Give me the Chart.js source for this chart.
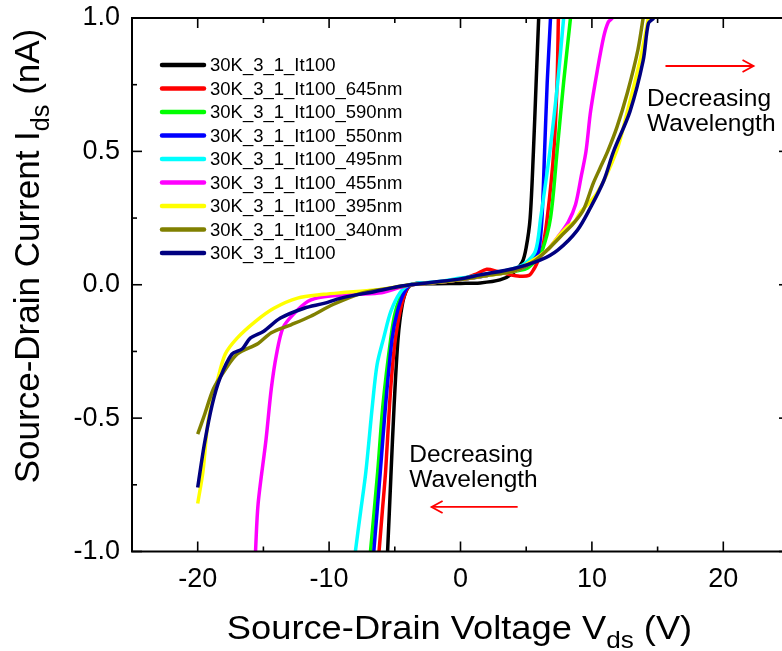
<!DOCTYPE html>
<html><head><meta charset="utf-8">
<script src="https://cdn.jsdelivr.net/npm/chart.js@4"></script>
<style>
html,body{margin:0;padding:0;overflow:hidden;background:#fff;width:782px;height:651px}
#wrap{position:absolute;left:0;top:0;width:800px;height:651px}
</style></head>
<body><div id="wrap"><canvas id="c" width="800" height="651"></canvas></div>
<script>
// ---- tick values ----
const xTicks = [-20, -10, 0, 10, 20];
const xMinorTicks = [-15, -5, 5, 15];
const yTicks = [-1.0, -0.5, 0.0, 0.5, 1.0];
const yMinorTicks = [-0.75, -0.25, 0.25, 0.75];

// ---- series ----
const seriesLabels = ['30K_3_1_It100','30K_3_1_It100_645nm','30K_3_1_It100_590nm','30K_3_1_It100_550nm',
  '30K_3_1_It100_495nm','30K_3_1_It100_455nm','30K_3_1_It100_395nm','30K_3_1_It100_340nm','30K_3_1_It100'];
const seriesColors = ['#000000','#ff0000','#00ff00','#0000ff','#00ffff','#ff00ff','#ffff00','#808000','#000080'];

const sDark = [[-5.6,-1.03],[-5.55,-1.0],[-5.3,-0.72],[-5.05,-0.45],[-4.75,-0.2],[-4.45,-0.08],[-4.1,-0.02],[-3.7,0],[-2,0.004],[0,0.005],[1.5,0.007],[3,0.018],[4,0.044],[4.7,0.085],[5.0,0.14],[5.3,0.25],[5.55,0.5],[5.75,0.75],[5.95,1.0],[5.98,1.03]];
const s645 = [[-6.25,-1.03],[-6.2,-1.0],[-5.95,-0.85],[-5.7,-0.7],[-5.4,-0.45],[-5.2,-0.32],[-4.95,-0.2],[-4.6,-0.1],[-4.2,-0.03],[-3.8,0],[-2,0.008],[0,0.02],[1.2,0.04],[2.0,0.058],[2.8,0.05],[3.6,0.04],[4.5,0.032],[5.2,0.035],[5.6,0.06],[5.9,0.09],[6.2,0.126],[6.6,0.25],[7.1,0.5],[7.35,0.76],[7.45,1.0],[7.47,1.03]];
const s590 = [[-6.9,-1.03],[-6.85,-1.0],[-6.3,-0.7],[-5.9,-0.45],[-5.3,-0.2],[-4.95,-0.1],[-4.4,-0.03],[-3.8,0],[-2,0.008],[0,0.02],[2,0.035],[4,0.05],[5,0.06],[5.7,0.09],[6.2,0.126],[6.85,0.25],[7.35,0.5],[7.85,0.76],[8.37,1.0],[8.42,1.03]];
const s550 = [[-6.65,-1.03],[-6.6,-1.0],[-6.1,-0.7],[-5.7,-0.45],[-5.2,-0.2],[-4.8,-0.1],[-4.3,-0.03],[-3.8,0],[-2,0.008],[0,0.02],[2,0.035],[4,0.055],[5.0,0.07],[5.6,0.1],[5.95,0.126],[6.2,0.25],[6.4,0.5],[6.6,0.76],[6.85,1.0],[6.87,1.03]];
const s495 = [[-8.05,-1.03],[-8.0,-1.0],[-7.6,-0.85],[-7.2,-0.7],[-6.7,-0.45],[-6.35,-0.3],[-5.85,-0.2],[-5.3,-0.1],[-4.6,-0.03],[-3.9,0],[-2,0.01],[0,0.025],[2,0.04],[4,0.06],[4.9,0.08],[5.7,0.126],[6.1,0.25],[6.8,0.5],[7.4,0.76],[7.85,1.0],[7.9,1.03]];
const s455 = [[-15.62,-1.03],[-15.6,-1.0],[-15.4,-0.82],[-14.8,-0.58],[-14.4,-0.39],[-14.0,-0.26],[-13.5,-0.16],[-12.7,-0.11],[-11.6,-0.062],[-10.4,-0.045],[-8,-0.036],[-6,-0.03],[-4.6,-0.01],[-3.8,0],[-2,0.008],[0,0.02],[2,0.035],[4,0.05],[5.3,0.08],[6.6,0.13],[7.5,0.185],[8.2,0.235],[8.75,0.3],[9.2,0.41],[9.55,0.5],[9.9,0.65],[10.4,0.8],[10.9,0.93],[11.25,0.985],[11.55,1.0],[11.7,1.02]];
const s395 = [[-20,-0.82],[-19.6,-0.70],[-19.2,-0.51],[-18.5,-0.36],[-17.9,-0.26],[-17.0,-0.20],[-15.6,-0.137],[-14.2,-0.088],[-12.4,-0.05],[-10.4,-0.036],[-9.1,-0.03],[-6.5,-0.02],[-4.5,-0.005],[-3.8,0],[-2,0.008],[0,0.02],[2,0.035],[4,0.05],[5.3,0.085],[6.6,0.13],[7.6,0.19],[8.2,0.22],[8.7,0.237],[9.1,0.27],[10.4,0.344],[11.9,0.505],[12.7,0.65],[13.7,0.85],[14.3,1.0],[14.4,1.03]];
const s340 = [[-20,-0.56],[-19.5,-0.49],[-18.8,-0.39],[-18.0,-0.325],[-17.0,-0.26],[-15.4,-0.22],[-14.4,-0.18],[-12.9,-0.15],[-11.4,-0.118],[-9.7,-0.074],[-7.4,-0.03],[-5,-0.01],[-3.8,0],[-2,0.008],[0,0.02],[2,0.035],[4,0.05],[5.5,0.085],[6.6,0.13],[7.6,0.18],[8.6,0.23],[9.35,0.28],[10.1,0.38],[10.6,0.435],[11.2,0.5],[11.9,0.59],[12.7,0.72],[13.5,0.88],[13.9,1.0],[14.0,1.03]];
const sNavy = [[-20,-0.76],[-19.5,-0.60],[-18.9,-0.45],[-18.3,-0.35],[-17.4,-0.26],[-16.6,-0.24],[-16.0,-0.20],[-15.0,-0.175],[-13.7,-0.125],[-11.9,-0.088],[-10.4,-0.07],[-9.1,-0.05],[-6.5,-0.025],[-4.5,-0.005],[-3.8,0],[-2,0.01],[0,0.022],[1.5,0.037],[4.0,0.06],[6.1,0.093],[7.4,0.13],[8.9,0.205],[9.9,0.29],[10.9,0.39],[11.65,0.5],[12.9,0.65],[13.9,0.84],[14.3,0.98],[14.7,1.0],[14.8,1.03]];
const series = [sDark, s645, s590, s550, s495, s455, s395, s340, sNavy];

// ---- annotations (data coordinates) ----
const noteTop = {x: 14.2, y: [0.67, 0.575], lines: ['Decreasing', 'Wavelength'], arrow: [15.6, 22.3, 0.82]};
const noteBottom = {x: -3.9, y: [-0.665, -0.758], lines: ['Decreasing', 'Wavelength'], arrow: [4.35, -2.2, -0.833]};

const FONT = '"Liberation Sans", Arial, Helvetica, sans-serif';

function drawSubText(ctx, parts, size, cx, cy, sx) {
  ctx.save();
  ctx.translate(cx, cy);
  ctx.scale(sx || 1, 1);
  let w = 0;
  parts.forEach(p => { ctx.font = (p.sub ? size * 0.72 : size) + 'px ' + FONT; w += ctx.measureText(p.t).width; });
  let x = -w / 2;
  ctx.textAlign = 'left'; ctx.textBaseline = 'alphabetic';
  parts.forEach(p => {
    ctx.font = (p.sub ? size * 0.72 : size) + 'px ' + FONT;
    ctx.fillText(p.t, x, p.sub ? size * 0.28 : 0);
    x += ctx.measureText(p.t).width;
  });
  ctx.restore();
}

function arrow(ctx, x1, x2, y) {
  ctx.beginPath(); ctx.moveTo(x1, y); ctx.lineTo(x2, y); ctx.stroke();
  const d = x2 > x1 ? -1 : 1;
  ctx.beginPath(); ctx.moveTo(x2 + d * 11, y - 6); ctx.lineTo(x2, y); ctx.lineTo(x2 + d * 11, y + 6); ctx.stroke();
}

const framePlugin = {
  id: 'frame',
  afterDraw(chart) {
    const {ctx, chartArea: a, scales: {x, y}} = chart;
    ctx.save();
    ctx.strokeStyle = '#000'; ctx.lineWidth = 2;
    ctx.strokeRect(a.left, a.top, a.right - a.left, a.bottom - a.top);
    ctx.lineWidth = 1.6;
    const tick = (vals, len) => {
      vals.forEach(v => {
        const px = x.getPixelForValue(v);
        ctx.beginPath(); ctx.moveTo(px, a.bottom); ctx.lineTo(px, a.bottom - len); ctx.stroke();
        ctx.beginPath(); ctx.moveTo(px, a.top); ctx.lineTo(px, a.top + len); ctx.stroke();
      });
    };
    const ytick = (vals, len) => {
      vals.forEach(v => {
        const py = y.getPixelForValue(v);
        ctx.beginPath(); ctx.moveTo(a.left, py); ctx.lineTo(a.left + len, py); ctx.stroke();
        ctx.beginPath(); ctx.moveTo(a.right, py); ctx.lineTo(a.right - len, py); ctx.stroke();
      });
    };
    tick(xTicks, 10); tick(xMinorTicks, 5);
    ytick(yTicks, 10); ytick(yMinorTicks, 5);

    // legend
    ctx.textAlign = 'left'; ctx.textBaseline = 'middle';
    ctx.font = '18.5px ' + FONT;
    seriesLabels.forEach((lab, i) => {
      const yy = a.top + 47 + i * 23.5;
      ctx.strokeStyle = seriesColors[i]; ctx.lineWidth = 4.5; ctx.lineCap = 'round';
      ctx.beginPath(); ctx.moveTo(a.left + 30, yy); ctx.lineTo(a.left + 72, yy); ctx.stroke();
      ctx.fillStyle = '#000';
      ctx.fillText(lab, a.left + 78, yy + 1);
    });
    ctx.lineCap = 'butt';

    // annotations
    [noteTop, noteBottom].forEach(n => {
      ctx.fillStyle = '#000'; ctx.font = '24.5px ' + FONT; ctx.textAlign = 'left'; ctx.textBaseline = 'alphabetic';
      n.lines.forEach((t, i) => ctx.fillText(t, x.getPixelForValue(n.x), y.getPixelForValue(n.y[i])));
      ctx.strokeStyle = '#ff0000'; ctx.lineWidth = 1.8;
      arrow(ctx, x.getPixelForValue(n.arrow[0]), x.getPixelForValue(n.arrow[1]), y.getPixelForValue(n.arrow[2]));
    });

    // axis titles
    ctx.fillStyle = '#000';
    drawSubText(ctx, [{t: 'Source-Drain Voltage V'}, {t: 'ds', sub: true}, {t: ' (V)'}], 33, x.getPixelForValue(0) - 1, 639, 1.1);
    ctx.save();
    ctx.translate(39, 256);
    ctx.rotate(-Math.PI / 2);
    drawSubText(ctx, [{t: 'Source-Drain Current I'}, {t: 'ds', sub: true}, {t: ' (nA)'}], 35, 0, 0, 1);
    ctx.restore();
    ctx.restore();
  }
};

new Chart(document.getElementById('c'), {
  type: 'line',
  data: {
    datasets: series.map((d, i) => ({
      label: seriesLabels[i],
      data: d.map(p => ({x: p[0], y: p[1]})),
      borderColor: seriesColors[i],
      borderWidth: 3.5,
      pointRadius: 0,
      fill: false,
      tension: 0.3,
      order: series.length - i
    }))
  },
  options: {
    responsive: false, animation: false, devicePixelRatio: 1,
    layout: {padding: {top: 18, right: 11, left: 0, bottom: 0}},
    plugins: {legend: {display: false}, tooltip: {enabled: false}},
    scales: {
      x: {
        type: 'linear', min: -25, max: 25,
        afterBuildTicks: s => { s.ticks = xTicks.map(v => ({value: v})); },
        afterFit: s => { s.height = 99.5; s.paddingLeft = 0; s.paddingRight = 0; },
        grid: {display: false, drawTicks: false},
        border: {display: false},
        ticks: {color: '#000', font: {family: FONT, size: 27}, padding: 12, maxRotation: 0, autoSkip: false,
          callback: v => String(v)}
      },
      y: {
        type: 'linear', min: -1, max: 1,
        afterBuildTicks: s => { s.ticks = yTicks.map(v => ({value: v})); },
        afterFit: s => { s.width = 132; s.paddingTop = 0; s.paddingBottom = 0; },
        grid: {display: false, drawTicks: false},
        border: {display: false},
        ticks: {color: '#000', font: {family: FONT, size: 27}, padding: 12, autoSkip: false,
          callback: v => Number(v).toFixed(1)}
      }
    }
  },
  plugins: [framePlugin]
});
</script>
</body></html>
